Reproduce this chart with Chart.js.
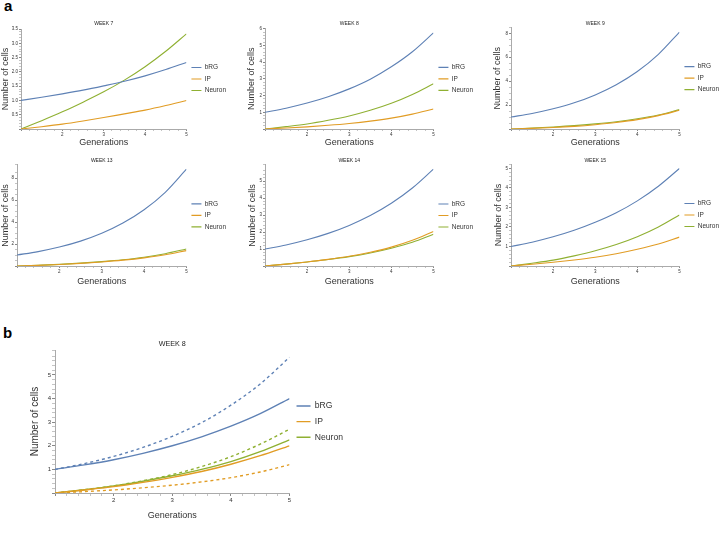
<!DOCTYPE html>
<html>
<head>
<meta charset="utf-8">
<script src="https://cdn.jsdelivr.net/npm/chart.js@4"></script>
<style>
  body { margin: 0; background: #fff; width: 722px; height: 534px; position: relative; overflow: hidden;
         font-family: "Liberation Sans", Arial, sans-serif; }
  .box { position: absolute; }
  .panel { position: absolute; font-weight: bold; font-size: 15px; line-height: 15px; color: #000; }
</style>
</head>
<body>
<div class="panel" style="left:4px;top:-2px">a</div>
<div class="panel" style="left:3px;top:325px">b</div>
<div class="box" id="b7"><canvas id="c7"></canvas></div>
<div class="box" id="b8"><canvas id="c8"></canvas></div>
<div class="box" id="b9"><canvas id="c9"></canvas></div>
<div class="box" id="b13"><canvas id="c13"></canvas></div>
<div class="box" id="b14"><canvas id="c14"></canvas></div>
<div class="box" id="b15"><canvas id="c15"></canvas></div>
<div class="box" id="bB"><canvas id="cB"></canvas></div>
<script>
// generations sampled on the x axis
const gens = [1, 1.5, 2, 2.5, 3, 3.5, 4, 4.5, 5];
const seriesNames = ['bRG', 'IP', 'Neuron'];

// WEEK 7
const week7_bRG = [1.00, 1.11, 1.23, 1.36, 1.51, 1.67, 1.86, 2.08, 2.33];
const week7_IP = [0, 0.08, 0.17, 0.28, 0.40, 0.53, 0.66, 0.82, 1.00];
const week7_Neuron = [0, 0.29, 0.60, 0.94, 1.30, 1.71, 2.18, 2.72, 3.33];
// WEEK 8
const week8_bRG = [1.00, 1.245, 1.55, 1.93, 2.40, 2.98, 3.72, 4.62, 5.75];
const week8_IP = [0, 0.06, 0.13, 0.22, 0.33, 0.47, 0.65, 0.89, 1.20];
const week8_Neuron = [0, 0.14, 0.30, 0.52, 0.78, 1.12, 1.54, 2.07, 2.70];
// WEEK 9
const week9_bRG = [1.00, 1.30, 1.69, 2.19, 2.85, 3.70, 4.80, 6.24, 8.10];
const week9_IP = [0, 0.05, 0.12, 0.22, 0.36, 0.54, 0.78, 1.12, 1.56];
const week9_Neuron = [0, 0.08, 0.17, 0.28, 0.43, 0.61, 0.85, 1.17, 1.62];
// WEEK 13
const week13_bRG = [1.00, 1.31, 1.72, 2.26, 2.97, 3.90, 5.11, 6.70, 8.80];
const week13_IP = [0, 0.06, 0.14, 0.24, 0.37, 0.53, 0.74, 1.02, 1.40];
const week13_Neuron = [0, 0.07, 0.15, 0.26, 0.40, 0.57, 0.80, 1.12, 1.55];
// WEEK 14
const week14_bRG = [1.00, 1.24, 1.545, 1.92, 2.39, 2.97, 3.69, 4.59, 5.70];
const week14_IP = [0, 0.11, 0.24, 0.39, 0.57, 0.81, 1.11, 1.51, 2.03];
const week14_Neuron = [0, 0.11, 0.24, 0.38, 0.55, 0.77, 1.05, 1.40, 1.87];
// WEEK 15
const week15_bRG = [1.00, 1.22, 1.495, 1.83, 2.24, 2.73, 3.34, 4.09, 5.00];
const week15_IP = [0, 0.09, 0.19, 0.31, 0.45, 0.63, 0.86, 1.13, 1.48];
const week15_Neuron = [0, 0.14, 0.30, 0.52, 0.78, 1.10, 1.50, 2.00, 2.62];
// panel b, WEEK 8 solid curves (dashed ones are the week 8 curves above)
const b_bRG = [1.00, 1.19, 1.41, 1.68, 2.00, 2.38, 2.83, 3.36, 4.00];
const b_IP = [0, 0.13, 0.27, 0.45, 0.66, 0.91, 1.22, 1.58, 2.00];
const b_Neuron = [0, 0.14, 0.30, 0.50, 0.73, 1.00, 1.33, 1.75, 2.25];

// y axis ranges
const yMaxes = { w7: 3.5, w8: 6, w9: 8.5, w13: 9.2, w14: 5.95, w15: 5.23, b: 6.05 };
const yMajors = { w7: 0.5, w8: 1, w9: 2, w13: 2, w14: 1, w15: 1, b: 1 };

const colors = ['#5E81B5', '#E19C24', '#8FB032'];
const FONT = '"Liberation Sans", Arial, sans-serif';
Chart.defaults.font.family = FONT;

const small = { tick: 4.5, title: 5, xAxis: 9, yAxis: 9, legend: 6.5, line: 1.1, legendLine: 10, legendPad: 5, tickLen: 2 };
const big = { tick: 6, title: 7.2, xAxis: 9, yAxis: 10, legend: 8.6, line: 1.4, legendLine: 14, legendPad: 7, tickLen: 3 };

function isMajor(v, major) {
    return Math.abs(v / major - Math.round(v / major)) < 1e-6;
}

function toPoints(vals) {
    return gens.map((g, i) => ({ x: g, y: vals[i] }));
}

function makeChart(id, title, lines, key, sz, pos) {
    const major = yMajors[key];
    const minor = major === 2 ? 0.5 : major / 5;
    const decimals = major < 1 ? 1 : 0;
    const titleLH = sz.title * 1.2;
    const top = Math.round(pos.titleY - 2 - titleLH / 2);
    const bottom = Math.round(pos.xTitleY + sz.xAxis * 0.6);
    const box = document.getElementById('b' + id);
    box.style.left = pos.left + 'px';
    box.style.top = top + 'px';
    box.style.width = pos.width + 'px';
    box.style.height = (bottom - top) + 'px';

    const datasets = lines.map(l => ({
        label: l.name,
        data: toPoints(l.values),
        borderColor: colors[l.color],
        backgroundColor: colors[l.color],
        borderWidth: sz.line,
        borderDash: l.dashed ? [3, 3] : [],
        pointRadius: 0,
        fill: false,
        cubicInterpolationMode: 'monotone',
        hideInLegend: !!l.dashed
    }));

    new Chart(document.getElementById('c' + id), {
        type: 'line',
        data: { datasets },
        options: {
            responsive: true,
            maintainAspectRatio: false,
            animation: false,
            events: [],
            layout: { padding: 0 },
            scales: {
                x: {
                    type: 'linear',
                    min: 1,
                    max: 5,
                    afterFit: s => { s.height = bottom - pos.plotBottom; },
                    border: { display: true, color: '#aaa', width: 1 },
                    grid: {
                        drawOnChartArea: false, drawTicks: true, tickLength: sz.tickLen,
                        tickColor: c => (c.tick && isMajor(c.tick.value, 1)) ? '#888' : '#c4c4c4'
                    },
                    ticks: {
                        stepSize: 0.2, autoSkip: false, maxRotation: 0, padding: 1,
                        color: '#333', font: { size: sz.tick },
                        callback: v => (isMajor(v, 1) && Math.round(v) !== 1) ? String(Math.round(v)) : ''
                    },
                    title: {
                        display: true, text: 'Generations', color: '#333',
                        font: { size: sz.xAxis }, padding: { top: 0, bottom: 0 }
                    }
                },
                y: {
                    min: 0,
                    max: yMaxes[key],
                    afterFit: s => { s.width = pos.plotLeft - pos.left; },
                    border: { display: true, color: '#aaa', width: 1 },
                    grid: {
                        drawOnChartArea: false, drawTicks: true, tickLength: sz.tickLen,
                        tickColor: c => (c.tick && isMajor(c.tick.value, major)) ? '#888' : '#c4c4c4'
                    },
                    ticks: {
                        stepSize: minor, autoSkip: false, padding: 1,
                        color: '#333', font: { size: sz.tick },
                        callback: v => (isMajor(v, major) && v > 1e-9) ? v.toFixed(decimals) : ''
                    },
                    title: {
                        display: true, text: 'Number of cells', color: '#333',
                        font: { size: sz.yAxis }, padding: { top: 0, bottom: 0 }
                    }
                }
            },
            plugins: {
                title: {
                    display: true, text: title, color: '#222', fullSize: false,
                    font: { size: sz.title, weight: 'normal' },
                    padding: { top: 2, bottom: Math.max(0, pos.plotTop - top - 2 - titleLH) }
                },
                legend: {
                    position: 'right',
                    align: 'center',
                    fullSize: false,
                    labels: {
                        usePointStyle: true,
                        pointStyle: 'line',
                        pointStyleWidth: sz.legendLine,
                        padding: sz.legendPad,
                        color: '#333',
                        font: { size: sz.legend },
                        filter: item => !datasets[item.datasetIndex].hideInLegend
                    }
                },
                tooltip: { enabled: false }
            }
        }
    });
}

function trio(bRG, IP, Neuron) {
    return [
        { name: seriesNames[0], values: bRG, color: 0 },
        { name: seriesNames[1], values: IP, color: 1 },
        { name: seriesNames[2], values: Neuron, color: 2 }
    ];
}

makeChart('7', 'WEEK 7', trio(week7_bRG, week7_IP, week7_Neuron), 'w7', small,
    { left: 0, width: 236, plotLeft: 21, titleY: 24, plotTop: 29, plotBottom: 129, xTitleY: 142.5 });
makeChart('8', 'WEEK 8', trio(week8_bRG, week8_IP, week8_Neuron), 'w8', small,
    { left: 246, width: 237, plotLeft: 265, titleY: 24, plotTop: 28.7, plotBottom: 129, xTitleY: 142.5 });
makeChart('9', 'WEEK 9', trio(week9_bRG, week9_IP, week9_Neuron), 'w9', small,
    { left: 492, width: 237, plotLeft: 511, titleY: 24, plotTop: 27.3, plotBottom: 129, xTitleY: 142.5 });
makeChart('13', 'WEEK 13', trio(week13_bRG, week13_IP, week13_Neuron), 'w13', small,
    { left: 0, width: 236, plotLeft: 17, titleY: 161, plotTop: 164.8, plotBottom: 266, xTitleY: 282 });
makeChart('14', 'WEEK 14', trio(week14_bRG, week14_IP, week14_Neuron), 'w14', small,
    { left: 247, width: 236, plotLeft: 265, titleY: 161, plotTop: 164.9, plotBottom: 266, xTitleY: 282 });
makeChart('15', 'WEEK 15', trio(week15_bRG, week15_IP, week15_Neuron), 'w15', small,
    { left: 493, width: 236, plotLeft: 511, titleY: 161, plotTop: 164, plotBottom: 266, xTitleY: 282 });

const bLines = trio(b_bRG, b_IP, b_Neuron).concat([
    { name: 'bRG dashed', values: week8_bRG, color: 0, dashed: true },
    { name: 'IP dashed', values: week8_IP, color: 1, dashed: true },
    { name: 'Neuron dashed', values: week8_Neuron, color: 2, dashed: true }
]);
makeChart('B', 'WEEK 8', bLines, 'b', big,
    { left: 29, width: 324, plotLeft: 55, titleY: 344, plotTop: 350.2, plotBottom: 493, xTitleY: 516 });
</script>
</body>
</html>
